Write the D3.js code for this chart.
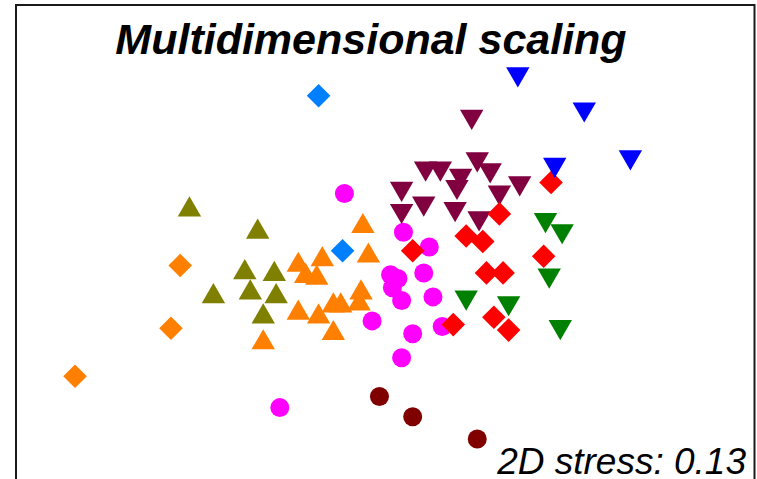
<!DOCTYPE html>
<html>
<head>
<meta charset="utf-8">
<script src="https://cdn.jsdelivr.net/npm/d3@7"></script>
<style>
  html, body { margin: 0; padding: 0; background: #fff; }
  svg { display: block; }
</style>
</head>
<body>
<svg id="chart" width="757" height="479"></svg>
<script>
// NMDS ordination scores (MDS1, MDS2) for each group of samples
const magentaCircles = [
  [-0.22, 0.36], [-0.57, -0.80], [0.10, 0.15], [0.24, 0.07], [0.03, -0.08],
  [0.07, -0.10], [0.04, -0.15], [0.21, -0.07], [0.09, -0.22], [0.26, -0.20],
  [-0.07, -0.33], [0.15, -0.40], [0.09, -0.53], [0.31, -0.36]
];
const darkRedCircles = [[-0.03, -0.74], [0.15, -0.85], [0.50, -0.97]];
const orangeDiamonds = [[-1.11, -0.03], [-1.16, -0.37], [-1.68, -0.63]];
const azureDiamonds = [[-0.36, 0.89], [-0.23, 0.05]];
const oliveTriangles = [
  [-1.06, 0.29], [-0.69, 0.17], [-0.76, -0.05], [-0.60, -0.06],
  [-0.93, -0.18], [-0.73, -0.16], [-0.59, -0.18], [-0.66, -0.29]
];
const orangeTriangles = [
  [-0.66, -0.43], [-0.12, 0.20], [-0.47, -0.01], [-0.34, 0.02], [-0.09, 0.04],
  [-0.43, -0.07], [-0.37, -0.08], [-0.13, -0.16], [-0.14, -0.22], [-0.28, -0.23],
  [-0.24, -0.23], [-0.47, -0.27], [-0.36, -0.29], [-0.28, -0.38]
];
const maroonTriangles = [
  [0.47, 0.76], [0.50, 0.53], [0.22, 0.48], [0.30, 0.48], [0.41, 0.44],
  [0.39, 0.38], [0.57, 0.47], [0.09, 0.37], [0.73, 0.40], [0.62, 0.35],
  [0.21, 0.29], [0.09, 0.25], [0.38, 0.26], [0.51, 0.21]
];
const redDiamonds = [
  [0.90, 0.42], [0.62, 0.25], [0.44, 0.13], [0.53, 0.10], [0.15, 0.05],
  [0.86, 0.02], [0.55, -0.07], [0.64, -0.07], [0.37, -0.35], [0.59, -0.31],
  [0.67, -0.38]
];
const greenTriangles = [
  [0.87, 0.20], [0.96, 0.14], [0.89, -0.10], [0.44, -0.22], [0.67, -0.25], [0.95, -0.38]
];
const blueTriangles = [[0.72, 0.99], [1.08, 0.80], [1.33, 0.54], [0.92, 0.50]];

const titleText = "Multidimensional scaling";
const stressText = "2D stress: 0.13";

// drawing order, marker shape and colour of each group
const layers = [
  { pts: magentaCircles,  shape: "circle",  color: "#FF00FF" },
  { pts: darkRedCircles,  shape: "circle",  color: "#800000" },
  { pts: orangeDiamonds,  shape: "diamond", color: "#FF8000" },
  { pts: azureDiamonds,   shape: "diamond", color: "#0080FF" },
  { pts: oliveTriangles,  shape: "up",      color: "#808000" },
  { pts: orangeTriangles, shape: "up",      color: "#FF8000" },
  { pts: maroonTriangles, shape: "down",    color: "#800040" },
  { pts: redDiamonds,     shape: "diamond", color: "#FF0000" },
  { pts: greenTriangles,  shape: "down",    color: "#008000" },
  { pts: blueTriangles,   shape: "down",    color: "#0000FF" }
];

const svg = d3.select("#chart");
const x = d3.scaleLinear().domain([-2, 2]).range([16, 754]);
const y = d3.scaleLinear().domain([-1.2, 1.4]).range([481.4, 1.7]);

// marker outlines around a centre point
const shapes = {
  circle:  r => `M${r},0A${r},${r} 0 1,1 ${-r},0A${r},${r} 0 1,1 ${r},0Z`,
  diamond: () => "M0,-11.8L11.8,0L0,11.8L-11.8,0Z",
  up:      () => "M0,-10.2L11.7,10L-11.7,10Z",
  down:    () => "M0,10.2L11.7,-10L-11.7,-10Z"
};

layers.forEach(layer => {
  svg.append("g")
    .selectAll("path")
    .data(layer.pts)
    .join("path")
    .attr("transform", d => `translate(${x(d[0])},${y(d[1])})`)
    .attr("d", shapes[layer.shape](9.5))
    .attr("fill", layer.color);
});

// plot frame
svg.append("rect")
  .attr("x", 16).attr("y", 5)
  .attr("width", 738.5).attr("height", 520)
  .attr("fill", "none")
  .attr("stroke", "#1a1a1a")
  .attr("stroke-width", 2);

svg.append("text")
  .attr("x", 371).attr("y", 54)
  .attr("text-anchor", "middle")
  .attr("font-family", "'Liberation Sans', Arial, sans-serif")
  .attr("font-size", 43)
  .attr("font-weight", "bold")
  .attr("font-style", "italic")
  .attr("fill", "#000")
  .text(titleText);

svg.append("text")
  .attr("x", 746).attr("y", 474)
  .attr("text-anchor", "end")
  .attr("font-family", "'Liberation Sans', Arial, sans-serif")
  .attr("font-size", 37)
  .attr("font-style", "italic")
  .attr("fill", "#000")
  .text(stressText);
</script>
</body>
</html>
